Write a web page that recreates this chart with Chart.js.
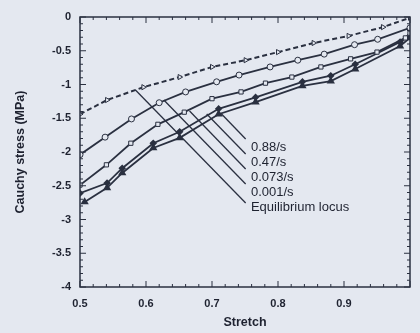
<!DOCTYPE html>
<html lang="en">
<head>
<meta charset="UTF-8">
<title>Cauchy stress vs stretch</title>
<script src="https://cdn.jsdelivr.net/npm/chart.js"></script>
<style>
    body {
        margin: 0;
        background: #e4e8f0;
        font-family: "Liberation Sans", Arial, sans-serif;
    }
    .chart-box {
        width: 420px;
        height: 333px;
    }
</style>
</head>
<body>
<div class="chart-box"><canvas id="stressChart"></canvas></div>
<script>
// tick labels
const xTickLabels = ['0.5', '0.6', '0.7', '0.8', '0.9', ''];
const yTickLabels = ['-4', '-3.5', '-3', '-2.5', '-2', '-1.5', '-1', '-0.5', '0'];

// equilibrium locus (dashed, open triangles)
const eqX = [0.5, 0.541, 0.596, 0.651, 0.700, 0.751, 0.800, 0.854, 0.907, 0.959, 1.0];
const eqY = [-1.44, -1.23, -1.04, -0.89, -0.74, -0.64, -0.52, -0.385, -0.28, -0.15, -0.01];

// 0.001/s (open circles)
const r001X = [0.5, 0.538, 0.578, 0.620, 0.660, 0.707, 0.741, 0.788, 0.830, 0.870, 0.916, 0.951, 1.0];
const r001Y = [-2.04, -1.78, -1.51, -1.27, -1.11, -0.96, -0.86, -0.74, -0.64, -0.55, -0.41, -0.33, -0.16];

// 0.073/s (open squares)
const r073X = [0.5, 0.540, 0.577, 0.618, 0.658, 0.700, 0.744, 0.781, 0.821, 0.865, 0.910, 0.950, 0.993, 1.0];
const r073Y = [-2.49, -2.19, -1.87, -1.59, -1.41, -1.21, -1.11, -0.98, -0.89, -0.74, -0.62, -0.52, -0.31, -0.24];

// 0.47/s (filled diamonds)
const r47X = [0.5, 0.541, 0.564, 0.611, 0.651, 0.710, 0.766, 0.837, 0.880, 0.917, 0.985, 1.0];
const r47Y = [-2.61, -2.46, -2.24, -1.87, -1.70, -1.36, -1.19, -0.96, -0.87, -0.70, -0.37, -0.28];

// 0.88/s (filled triangles)
const r88X = [0.507, 0.541, 0.564, 0.611, 0.651, 0.710, 0.766, 0.837, 0.880, 0.917, 0.985, 1.0];
const r88Y = [-2.74, -2.53, -2.31, -1.94, -1.79, -1.44, -1.26, -1.02, -0.95, -0.77, -0.43, -0.31];

// annotation labels and their leader lines (data coords)
const noteText = ['0.88/s', '0.47/s', '0.073/s', '0.001/s', 'Equilibrium locus'];
const noteX = 0.759;
const noteY = [-1.926, -2.148, -2.370, -2.593, -2.815];
const leadStartX = [0.713, 0.692, 0.666, 0.627, 0.584];
const leadStartY = [-1.422, -1.437, -1.393, -1.230, -1.081];
const leadEndX = [0.751, 0.751, 0.751, 0.751, 0.751];
const leadEndY = [-1.807, -2.030, -2.252, -2.474, -2.756];

const ink = '#2a3040';
const paper = '#e4e8f0';

function pts(xs, ys) {
    return xs.map((x, i) => ({ x: x, y: ys[i] }));
}

const datasets = [
    {
        label: 'Equilibrium locus',
        data: pts(eqX, eqY),
        borderColor: ink,
        borderWidth: 2,
        borderDash: [5, 3],
        pointStyle: 'triangle',
        rotation: 90,
        pointRadius: 3,
        pointBackgroundColor: paper,
        pointBorderColor: ink,
        pointBorderWidth: 1
    },
    {
        label: '0.001/s',
        data: pts(r001X, r001Y),
        borderColor: ink,
        borderWidth: 1.8,
        pointStyle: 'circle',
        pointRadius: 3,
        pointBackgroundColor: paper,
        pointBorderColor: ink,
        pointBorderWidth: 1
    },
    {
        label: '0.073/s',
        data: pts(r073X, r073Y),
        borderColor: ink,
        borderWidth: 1.8,
        pointStyle: 'rect',
        pointRadius: 3,
        pointBackgroundColor: paper,
        pointBorderColor: ink,
        pointBorderWidth: 1
    },
    {
        label: '0.47/s',
        data: pts(r47X, r47Y),
        borderColor: ink,
        borderWidth: 1.8,
        pointStyle: 'rectRot',
        pointRadius: 2.5,
        pointBackgroundColor: ink,
        pointBorderColor: ink
    },
    {
        label: '0.88/s',
        data: pts(r88X, r88Y),
        borderColor: ink,
        borderWidth: 1.8,
        pointStyle: 'triangle',
        pointRadius: 3,
        pointBackgroundColor: ink,
        pointBorderColor: ink
    }
];

// leader lines
for (let i = 0; i < noteText.length; i++) {
    datasets.push({
        label: 'lead' + i,
        data: [{ x: leadStartX[i], y: leadStartY[i] }, { x: leadEndX[i], y: leadEndY[i] }],
        borderColor: ink,
        borderWidth: 1.3,
        pointRadius: 0
    });
}

// frame with inward major/minor ticks, plus the text notes
const frameTicks = {
    id: 'frameTicks',
    afterDraw(chart) {
        const ctx = chart.ctx;
        const a = chart.chartArea;
        const xs = chart.scales.x;
        const ys = chart.scales.y;
        ctx.save();
        ctx.strokeStyle = ink;
        ctx.lineWidth = 1.5;
        ctx.strokeRect(a.left, a.top, a.right - a.left, a.bottom - a.top);
        ctx.lineWidth = 1;
        ctx.beginPath();
        for (let k = 0; k <= 25; k++) {
            const px = xs.getPixelForValue(0.5 + k * 0.02);
            const len = k % 5 === 0 ? 6 : 3;
            ctx.moveTo(px, a.bottom); ctx.lineTo(px, a.bottom - len);
            ctx.moveTo(px, a.top); ctx.lineTo(px, a.top + len);
        }
        for (let k = 0; k <= 40; k++) {
            const py = ys.getPixelForValue(-4 + k * 0.1);
            const len = k % 5 === 0 ? 6 : 3;
            ctx.moveTo(a.left, py); ctx.lineTo(a.left + len, py);
            ctx.moveTo(a.right, py); ctx.lineTo(a.right - len, py);
        }
        ctx.stroke();

        ctx.fillStyle = '#1e2230';
        ctx.font = '13px "Liberation Sans", Arial, sans-serif';
        ctx.textBaseline = 'middle';
        ctx.textAlign = 'left';
        const nx = xs.getPixelForValue(noteX);
        noteText.forEach((t, i) => {
            ctx.fillText(t, nx, ys.getPixelForValue(noteY[i]));
        });
        ctx.restore();
    }
};

const ctx = document.getElementById('stressChart').getContext('2d');
new Chart(ctx, {
    type: 'line',
    data: { datasets: datasets },
    options: {
        responsive: true,
        maintainAspectRatio: false,
        animation: false,
        layout: { padding: { top: 17, right: 2, left: 0, bottom: 0 } },
        plugins: {
            legend: { display: false },
            tooltip: { enabled: false }
        },
        elements: { line: { tension: 0 } },
        scales: {
            x: {
                type: 'linear',
                min: 0.5,
                max: 1.0,
                grid: { display: false, drawTicks: false },
                border: { display: false },
                ticks: {
                    stepSize: 0.1,
                    padding: 10,
                    color: '#1e2230',
                    font: { family: '"Liberation Sans", Arial, sans-serif', size: 11, weight: 'bold' },
                    callback: (v, i) => xTickLabels[i]
                },
                title: {
                    display: true,
                    text: 'Stretch',
                    color: '#1e2230',
                    font: { family: '"Liberation Sans", Arial, sans-serif', size: 12.5, weight: 'bold' },
                    padding: { top: 0, bottom: 3 }
                },
                afterFit(scale) { scale.height = 46; }
            },
            y: {
                min: -4,
                max: 0,
                grid: { display: false, drawTicks: false },
                border: { display: false },
                ticks: {
                    stepSize: 0.5,
                    padding: 9,
                    color: '#1e2230',
                    font: { family: '"Liberation Sans", Arial, sans-serif', size: 11, weight: 'bold' },
                    callback: (v, i) => yTickLabels[i]
                },
                title: {
                    display: true,
                    text: 'Cauchy stress (MPa)',
                    color: '#1e2230',
                    font: { family: '"Liberation Sans", Arial, sans-serif', size: 12.5, weight: 'bold' },
                    padding: { top: 13, bottom: 0 }
                },
                afterFit(scale) { scale.width = 80; }
            }
        }
    },
    plugins: [frameTicks]
});
</script>
</body>
</html>
